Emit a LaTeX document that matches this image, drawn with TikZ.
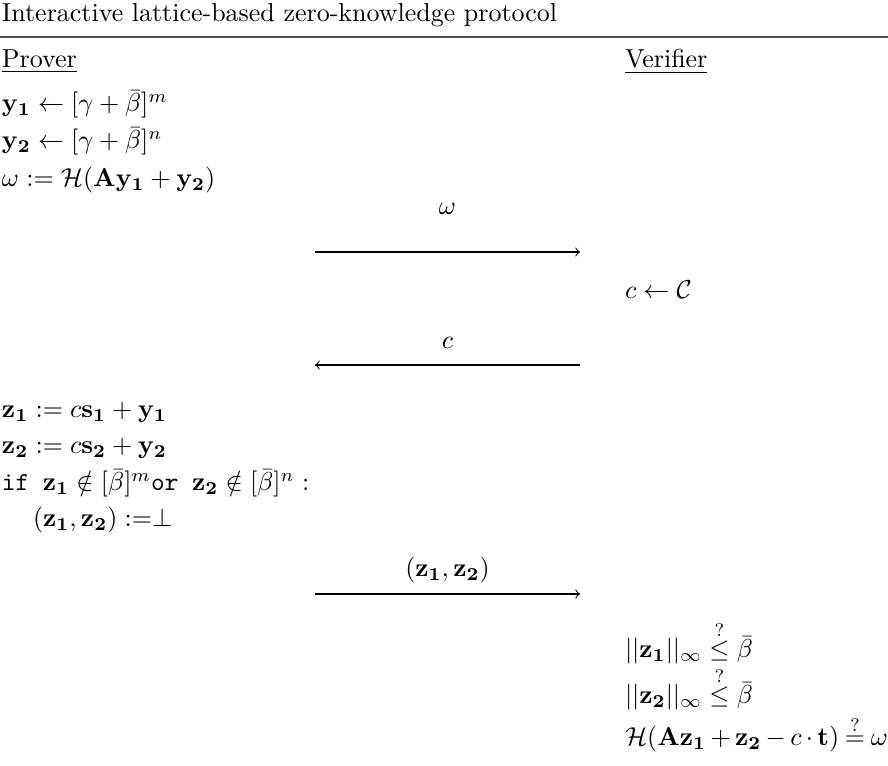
\documentclass[tikz,border=0pt]{standalone}
\usepackage{amsmath,amssymb}
\begin{document}
\begin{tikzpicture}[x=0.385pt,y=-0.385pt,
  txt/.style={anchor=base west, inner sep=0pt, outer sep=0pt},
  lbl/.style={anchor=base, inner sep=0pt, outer sep=0pt},
  msg/.style={->, line width=0.4pt},
  rulestyle/.style={draw=black!70, line width=0.6pt}]
\useasboundingbox (0,0) rectangle (888,766);
% title and rule
\node[txt] (title) at (2,22) {Interactive lattice-based zero-knowledge protocol};
\coordinate (rl) at (0,37);
\coordinate (rr) at (888,37);
\draw[rulestyle] (rl) -- (rr);
% headers
\node[txt] (prover) at (2,68) {\underline{Prover}};
\node[txt] (verifier) at (625,68) {\underline{Verifier}};
% prover first block
\node[txt] (p1) at (2,112) {$\mathbf{y_1} \leftarrow [\gamma+\bar{\beta}]^m$};
\node[txt] (p2) at (2,149) {$\mathbf{y_2} \leftarrow [\gamma+\bar{\beta}]^n$};
\node[txt] (p3) at (2,187) {$\omega := \mathcal{H}(\mathbf{A}\mathbf{y_1}+\mathbf{y_2})$};
% message 1
\coordinate (m1s) at (315,252);
\coordinate (m1e) at (580,252);
\draw[msg] (m1s) -- (m1e) node[lbl, midway, above=14.5pt, anchor=base] (l1) {$\omega$};
% verifier challenge
\node[txt] (v1) at (625,299) {$c \leftarrow \mathcal{C}$};
% message 2
\coordinate (m2s) at (580,365);
\coordinate (m2e) at (315,365);
\draw[msg] (m2s) -- (m2e) node[lbl, midway, above=6.3pt, anchor=base] (l2) {$c$};
% prover response
\node[txt] (p4) at (2,418) {$\mathbf{z_1} := c\mathbf{s_1}+\mathbf{y_1}$};
\node[txt] (p5) at (2,454) {$\mathbf{z_2} := c\mathbf{s_2}+\mathbf{y_2}$};
\node[txt] (p6) at (2,491) {$\texttt{if }\mathbf{z_1}\notin[\bar{\beta}]^m\texttt{or }\mathbf{z_2}\notin[\bar{\beta}]^n :$};
\node[txt] (p7) at (33,527) {$(\mathbf{z_1},\mathbf{z_2})\;{:=}\bot$};
% message 3
\coordinate (m3s) at (315,594);
\coordinate (m3e) at (580,594);
\draw[msg] (m3s) -- (m3e) node[lbl, midway, above=6.8pt, anchor=base] (l3) {$(\mathbf{z_1},\mathbf{z_2})$};
% verification
\node[txt] (v2) at (625,658) {$||\mathbf{z_1}||_\infty \stackrel{?}{\leq} \bar{\beta}$};
\node[txt] (v3) at (625,704) {$||\mathbf{z_2}||_\infty \stackrel{?}{\leq} \bar{\beta}$};
\node[txt] (v4) at (625,746) {$\medmuskip=3mu\thickmuskip=4mu\mathcal{H}(\mathbf{A}\mathbf{z_1}+\mathbf{z_2}-c\cdot\mathbf{t}) \stackrel{?}{=} \omega$};
\end{tikzpicture}
\end{document}
